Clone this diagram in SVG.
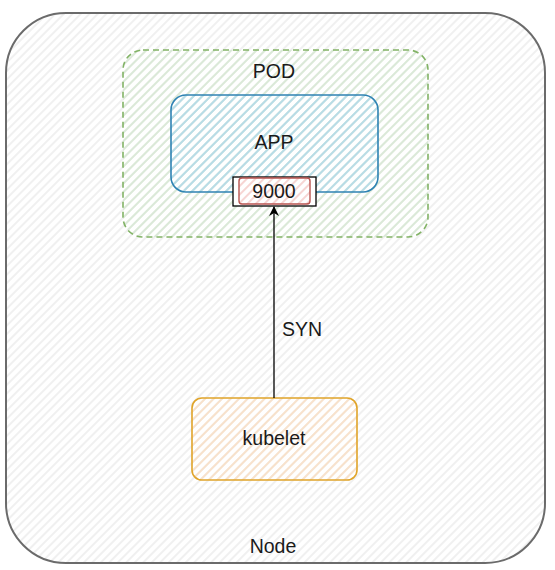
<svg xmlns="http://www.w3.org/2000/svg" width="555" height="570" viewBox="0 0 555 570">
<style>
text{font-family:"Liberation Sans",Arial,sans-serif;font-size:19.5px;fill:#1a1a1a;text-anchor:middle;dominant-baseline:central}
</style>
<defs>
<pattern id="hGray" width="6" height="6" patternUnits="userSpaceOnUse" patternTransform="rotate(45)"><line x1="1" y1="0" x2="1" y2="6" stroke="#e3e3e3" stroke-width="1.1"/></pattern>
<pattern id="hGreen" width="6" height="6" patternUnits="userSpaceOnUse" patternTransform="rotate(45)"><line x1="1" y1="0" x2="1" y2="6" stroke="#cfe5cb" stroke-width="1.3"/></pattern>
<pattern id="hBlue" width="6" height="6" patternUnits="userSpaceOnUse" patternTransform="rotate(45)"><line x1="1" y1="0" x2="1" y2="6" stroke="#a9d7ec" stroke-width="1.4"/></pattern>
<pattern id="hRed" width="6" height="6" patternUnits="userSpaceOnUse" patternTransform="rotate(45)"><line x1="1" y1="0" x2="1" y2="6" stroke="#f3c3c0" stroke-width="1.4"/></pattern>
<pattern id="hOrange" width="6" height="6" patternUnits="userSpaceOnUse" patternTransform="rotate(45)"><line x1="1" y1="0" x2="1" y2="6" stroke="#fbdcbc" stroke-width="1.4"/></pattern>
<marker id="arr" markerWidth="10" markerHeight="10" refX="9" refY="5" orient="auto" markerUnits="userSpaceOnUse"><path d="M0,0 L10,5 L0,10 L3,5 Z" fill="#000"/></marker>
</defs>
<rect width="555" height="570" fill="#fff"/>
<g id="node">
<rect x="6" y="13" width="539" height="550" rx="60" ry="60" fill="url(#hGray)" stroke="#6b6b6b" stroke-width="2"/>
<text x="273" y="546">Node</text>
</g>
<g id="pod">
<rect x="123" y="50" width="305" height="187" rx="20" ry="20" fill="url(#hGreen)" stroke="#82b366" stroke-width="1.6" stroke-dasharray="6 4"/>
<text x="274" y="71">POD</text>
</g>
<g id="app">
<rect x="171" y="95" width="207" height="97" rx="15" ry="15" fill="url(#hBlue)" stroke="#2f83b3" stroke-width="1.6"/>
<text x="274" y="141.5">APP</text>
</g>
<g id="port">
<rect x="233" y="177" width="83" height="29" fill="#fff" stroke="#000" stroke-width="1.3"/>
<rect x="239" y="178" width="71" height="26" rx="3" fill="url(#hRed)" stroke="#b85450" stroke-width="1.4"/>
<text x="274" y="191">9000</text>
</g>
<g id="kubelet">
<rect x="192" y="398" width="165" height="82" rx="10" ry="10" fill="url(#hOrange)" stroke="#e0a42a" stroke-width="1.6"/>
<text x="274" y="438">kubelet</text>
</g>
<g id="connectors">
<line x1="274" y1="398" x2="274" y2="207" stroke="#000" stroke-width="1.3" marker-end="url(#arr)"/>
<text x="302" y="329">SYN</text>
</g>
</svg>
